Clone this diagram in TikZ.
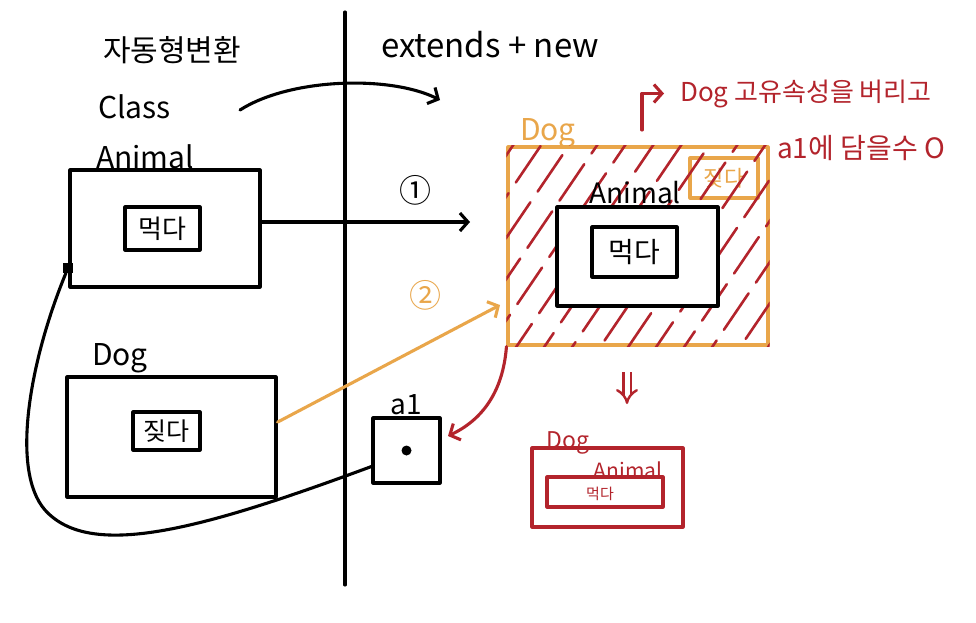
\documentclass[tikz,border=0pt]{standalone}
\usepackage{fontspec}
\setmainfont{Noto Sans CJK KR}
\usetikzlibrary{arrows.meta,calc}
\definecolor{dogorange}{HTML}{E9A64A}
\definecolor{dogred}{HTML}{B3242C}
\tikzset{
  pen/.style={line width=3.1pt, line cap=round, line join=round},
  box/.style={draw, pen, rectangle, inner sep=0pt},
  txt/.style={inner sep=0pt, font=\fontsize{#1}{#1}\selectfont},
  chev/.style={-{Straight Barb[length=8pt,width=18pt]}},
  hatch/.style={draw=dogred, line width=2.6pt, line cap=round}
}
\begin{document}
\begin{tikzpicture}[x=1pt,y=-1pt]
\useasboundingbox (0,0) rectangle (976,622);
\fill[white] (0,0) rectangle (976,622);

% divider
\coordinate (vtop) at (345,12);
\coordinate (vbot) at (345,585);
\draw[pen] (vtop) -- (vbot);

% left labels
\node[txt=30] (title) at (172,50) {자동형변환};
\node[txt=30, anchor=west] (cls) at (98,107) {Class};
\node[txt=30, anchor=base west] (animlbl) at (96,168) {Animal};
\node[txt=33] (ext) at (490,45) {extends + new};

% Animal class
\node[box, minimum width=190pt, minimum height=117pt] (animal) at (165,228.5) {};
\node[box, minimum width=75pt, minimum height=43pt, txt=26] (eat) at (162.5,228.5) {먹다};
\node[draw, fill=black, minimum size=9pt, inner sep=0pt, line width=1pt] (sq) at (68,268) {};

% Dog class
\node[txt=30, anchor=base] (doglbl) at (120,365) {Dog};
\node[box, minimum width=209pt, minimum height=120pt] (dog) at (171.5,437) {};
\node[box, minimum width=67pt, minimum height=38pt, txt=25] (bark) at (166.5,431) {짖다};

% a1 reference
\node[txt=28, anchor=base] (a1lbl) at (406,414) {a1};
\node[box, minimum width=67pt, minimum height=65pt] (a1) at (406.5,450.5) {};
\fill (a1.center) circle (5pt);

% Dog object (orange)
\node[txt=30, text=dogorange, anchor=base] (odoglbl) at (548,140) {Dog};
\node[box, draw=dogorange, minimum width=260pt, minimum height=198pt] (obox) at (638,246) {};
\node[box, draw=dogorange, minimum width=68pt, minimum height=40pt, txt=22, text=dogorange] (obark) at (724,178) {짖다};
\begin{scope}
  \clip (obox.south west) rectangle (obox.north east);
  \foreach \i in {0,...,15}
    \draw[hatch, dash pattern=on 44pt off 13pt, dash phase={\i*11pt}] ({366+\i*28},362) -- ++(152,-224);
\end{scope}
\node[box, fill=white, minimum width=161pt, minimum height=99pt] (ianimal) at (637.5,256.5) {};
\node[txt=28, anchor=base] (ianimlbl) at (635,203) {Animal};
\node[box, minimum width=85pt, minimum height=50pt, txt=28] (ieat) at (634.5,252) {먹다};

% notes (red)
\node[txt=26, text=dogred, anchor=base west] (note1) at (680,101) {Dog 고유속성을 버리고};
\node[txt=28, text=dogred, anchor=base west] (note2) at (777,158) {a1에 담을수 O};
\coordinate (nstart) at (642,130);
\draw[pen, dogred, chev] (nstart) |- ([xshift=-16pt]note1.west);

% result (red)
\node[box, draw=dogred, minimum width=151pt, minimum height=79pt] (rbox) at (607.5,487.5) {};
\node[box, draw=dogred, minimum width=116pt, minimum height=30pt] (rinner) at (605,492) {};
\node[txt=23, text=dogred, anchor=base] (rdog) at (568,448) {Dog};
\node[txt=21, text=dogred, anchor=base] (ranim) at (628,478) {Animal};
\node[txt=15, text=dogred] (reat) at (600,494) {먹다};
\coordinate (dstart) at (627,372);
\coordinate (dend) at (627,404);
\draw[draw=dogred, double=white, double distance=5pt, line width=2.4pt, -{Implies}] (dstart) -- (dend);

% connectors
\coordinate (cstart) at (240,110);
\coordinate (cend) at (440,100);
\draw[pen, chev] (cstart) .. controls (290,78) and (390,75) .. (cend);

\coordinate (oneend) at (470,222);
\draw[pen, chev] (animal.east |- oneend) -- (oneend);
\node[txt=32] (one) at (415,190) {①};

\coordinate (twoend) at (500,305);
\draw[pen, draw=dogorange, chev] (dog.8) -- (twoend);
\node[txt=32, text=dogorange] (two) at (425,295) {②};

\coordinate (rend) at (448,436);
\draw[pen, draw=dogred, chev] (obox.south west) .. controls (503,392) and (482,420) .. (rend);

\draw[pen] ([yshift=-16pt]a1.west) .. controls (200,530) and (90,560) .. (45,510)
  .. controls (10,470) and (30,360) .. (sq);
\end{tikzpicture}
\end{document}
